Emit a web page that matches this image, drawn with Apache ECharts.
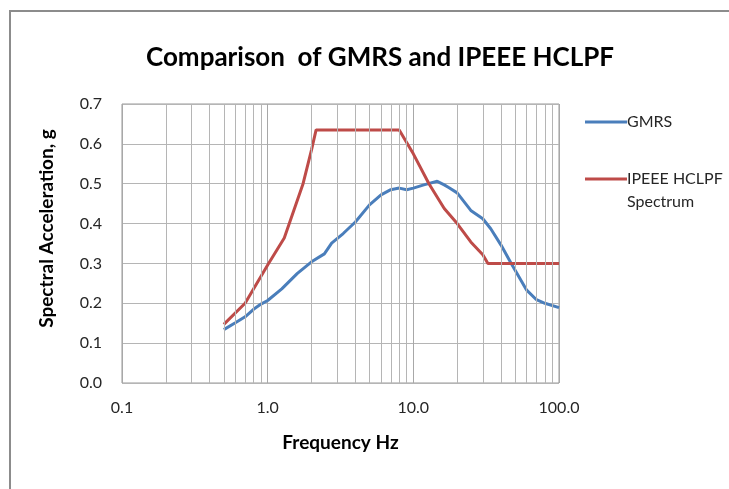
<!DOCTYPE html>
<html>
<head>
<meta charset="utf-8">
<script src="https://cdn.jsdelivr.net/npm/echarts@6/dist/echarts.min.js"></script>
<style>
  html, body { margin: 0; padding: 0; background: #fff; }
  #chart { width: 729px; height: 489px; }
</style>
</head>
<body>
<div id="chart"></div>
<script>
// GMRS curve (Hz, g)
const gmrsFreq = [0.5, 0.6, 0.7, 0.8, 0.9, 1.0, 1.25, 1.6, 2.0, 2.45, 2.75, 3.3, 4.0, 5.0, 6.0, 7.0, 8.0, 9.0, 10.0, 11.8, 14.6, 16.3, 17.6, 20, 24.8, 30, 34, 40, 47, 50, 60, 70, 80, 100]
const gmrsAccel = [0.134, 0.151, 0.166, 0.185, 0.198, 0.207, 0.236, 0.275, 0.304, 0.324, 0.351, 0.375, 0.404, 0.447, 0.472, 0.485, 0.489, 0.485, 0.489, 0.497, 0.506, 0.497, 0.49, 0.477, 0.433, 0.412, 0.387, 0.346, 0.3, 0.283, 0.233, 0.209, 0.2, 0.189]

// IPEEE HCLPF spectrum (Hz, g)
const hclpfFreq = [0.5, 0.7, 1.0, 1.3, 1.75, 2.0, 2.15, 8.0, 10.0, 12.8, 16.3, 20, 24.8, 30, 32.5, 100]
const hclpfAccel = [0.147, 0.2, 0.296, 0.364, 0.5, 0.585, 0.635, 0.635, 0.575, 0.5, 0.438, 0.4, 0.354, 0.322, 0.3, 0.3]

// minor gridlines of the log axis
const minorFreqs = [0.2, 0.3, 0.4, 0.5, 0.6, 0.7, 0.8, 0.9, 2, 3, 4, 5, 6, 7, 8, 9, 20, 30, 40, 50, 60, 70, 80, 90]

const gridColor = '#b5b5b5'
const fontFam = 'Lato, "Noto Sans", sans-serif'

const pairs = (xs, ys) => xs.map((x, i) => [x, ys[i]])

const chart = echarts.init(document.getElementById('chart'))
const option = {
  animation: false,
  backgroundColor: '#fff',
  title: {
    text: 'Comparison  of GMRS and IPEEE HCLPF',
    left: 375,
    textAlign: 'center',
    top: 40,
    textStyle: { fontFamily: fontFam, fontSize: 26, fontWeight: 'bold', color: '#000' }
  },
  graphic: [
    {
      type: 'rect',
      shape: { x: 10, y: 11, width: 800, height: 600 },
      style: { fill: 'none', stroke: '#8c8c8c', lineWidth: 2 },
      silent: true
    },
    {
      type: 'text',
      left: 627,
      top: 194,
      style: { text: 'Spectrum', fontFamily: fontFam, fontSize: 16, fill: '#262626' }
    }
  ],
  legend: [
    {
      data: ['GMRS'],
      orient: 'vertical',
      left: 580,
      top: 109,
      icon: 'rect',
      itemWidth: 42,
      itemHeight: 3,
      textStyle: { fontFamily: fontFam, fontSize: 16, color: '#262626', padding: [0, 0, 0, -5] }
    },
    {
      data: ['IPEEE HCLPF Spectrum'],
      orient: 'vertical',
      left: 580,
      top: 166,
      icon: 'rect',
      itemWidth: 42,
      itemHeight: 3,
      formatter: () => 'IPEEE HCLPF',
      textStyle: { fontFamily: fontFam, fontSize: 16, color: '#262626', padding: [0, 0, 0, -5] }
    }
  ],
  grid: {
    left: 122,
    top: 104,
    right: 170,
    bottom: 106,
    show: true,
    borderColor: '#999',
    borderWidth: 1
  },
  xAxis: {
    type: 'log',
    logBase: 10,
    min: 0.1,
    max: 100,
    name: 'Frequency Hz',
    nameLocation: 'middle',
    nameGap: 50,
    nameTextStyle: { fontFamily: fontFam, fontSize: 19, fontWeight: 'bold', color: '#000' },
    axisLine: { show: false },
    axisTick: { show: false },
    axisLabel: {
      margin: 17,
      fontFamily: fontFam,
      fontSize: 16,
      color: '#262626',
      formatter: v => Number(v).toFixed(1)
    },
    splitLine: { show: true, lineStyle: { color: '#a8a8a8', width: 1 } }
  },
  yAxis: {
    type: 'value',
    min: 0,
    max: 0.7,
    interval: 0.1,
    name: 'Spectral Acceleration, g',
    nameLocation: 'middle',
    nameGap: 66,
    nameTextStyle: { fontFamily: fontFam, fontSize: 19, fontWeight: 'bold', color: '#000', padding: [0, 0, 0, 30] },
    axisLine: { show: false },
    axisTick: { show: false },
    axisLabel: {
      margin: 20,
      fontFamily: fontFam,
      fontSize: 16,
      color: '#262626',
      formatter: v => v.toFixed(1)
    },
    splitLine: { show: true, lineStyle: { color: gridColor, width: 1 } }
  },
  series: [
    {
      name: 'minor grid',
      type: 'line',
      data: [],
      z: 1,
      markLine: {
        silent: true,
        symbol: 'none',
        label: { show: false },
        lineStyle: { color: gridColor, width: 1, type: 'solid' },
        emphasis: { disabled: true },
        data: minorFreqs.map(f => ({ xAxis: f }))
      }
    },
    {
      name: 'GMRS',
      type: 'line',
      z: 3,
      symbol: 'none',
      data: pairs(gmrsFreq, gmrsAccel),
      lineStyle: { color: '#4a7ebb', width: 3 },
      itemStyle: { color: '#4a7ebb' }
    },
    {
      name: 'IPEEE HCLPF Spectrum',
      type: 'line',
      z: 3,
      symbol: 'none',
      data: pairs(hclpfFreq, hclpfAccel),
      lineStyle: { color: '#be4b48', width: 3 },
      itemStyle: { color: '#be4b48' }
    }
  ]
}
chart.setOption(option)
</script>
</body>
</html>
